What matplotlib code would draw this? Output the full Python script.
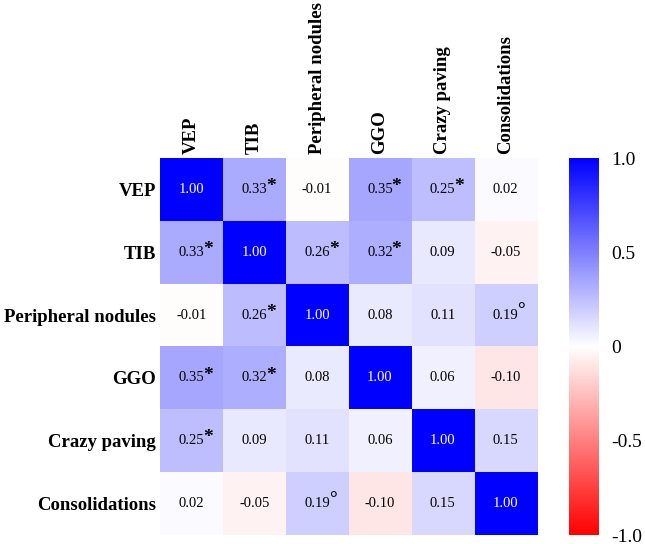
import numpy as np
import matplotlib.pyplot as plt

plt.rcParams['font.family'] = ['Liberation Serif', 'DejaVu Serif']

labels = ['VEP', 'TIB', 'Peripheral nodules', 'GGO', 'Crazy paving', 'Consolidations']
corr = np.array([
    [1.00, 0.33, -0.01, 0.35, 0.25, 0.02],
    [0.33, 1.00, 0.26, 0.32, 0.09, -0.05],
    [-0.01, 0.26, 1.00, 0.08, 0.11, 0.19],
    [0.35, 0.32, 0.08, 1.00, 0.06, -0.10],
    [0.25, 0.09, 0.11, 0.06, 1.00, 0.15],
    [0.02, -0.05, 0.19, -0.10, 0.15, 1.00],
])
# '*' significant, 'o' borderline
marks = [
    ['', '*', '', '*', '*', ''],
    ['*', '', '*', '*', '', ''],
    ['', '*', '', '', '', 'o'],
    ['*', '*', '', '', '', ''],
    ['*', '', '', '', '', ''],
    ['', '', 'o', '', '', ''],
]
cbar_ticks = [1.0, 0.5, 0, -0.5, -1.0]
cbar_ticklabels = ['1.0', '0.5', '0', '-0.5', '-1.0']

fig = plt.figure(figsize=(6.45, 5.44), dpi=100)
ax = fig.add_axes([0.248, 0.0165, 0.5845, 0.693])
cax = fig.add_axes([0.882, 0.0165, 0.0465, 0.693])

im = ax.imshow(corr, cmap='bwr_r', vmin=-1, vmax=1, aspect='auto')
n = len(labels)
for i in range(n):
    for j in range(n):
        col = 'white' if i == j else 'black'
        ax.text(j, i, f'{corr[i, j]:.2f}', ha='center', va='center', fontsize=10.5, color=col)
        m = marks[i][j]
        if m == '*':
            ax.annotate('*', xy=(j, i), xytext=(8.5, 2), textcoords='offset points',
                        ha='left', va='center', fontsize=14, fontweight='bold')
        elif m == 'o':
            ax.annotate('°', xy=(j, i), xytext=(8.5, 3), textcoords='offset points',
                        ha='left', va='center', fontsize=14, fontweight='bold')

ax.set_xticks(range(n))
ax.set_yticks(range(n))
ax.set_xticklabels(labels, rotation=90, fontsize=13.5, fontweight='bold')
ax.set_yticklabels(labels, fontsize=13.5, fontweight='bold')
ax.xaxis.tick_top()
ax.tick_params(length=0, pad=3)
for s in ax.spines.values():
    s.set_visible(False)

cb = fig.colorbar(im, cax=cax)
cb.set_ticks(cbar_ticks)
cb.set_ticklabels(cbar_ticklabels)
cb.outline.set_visible(False)
cax.tick_params(length=0, labelsize=14, pad=9)

fig.savefig('out.png', dpi=100)
